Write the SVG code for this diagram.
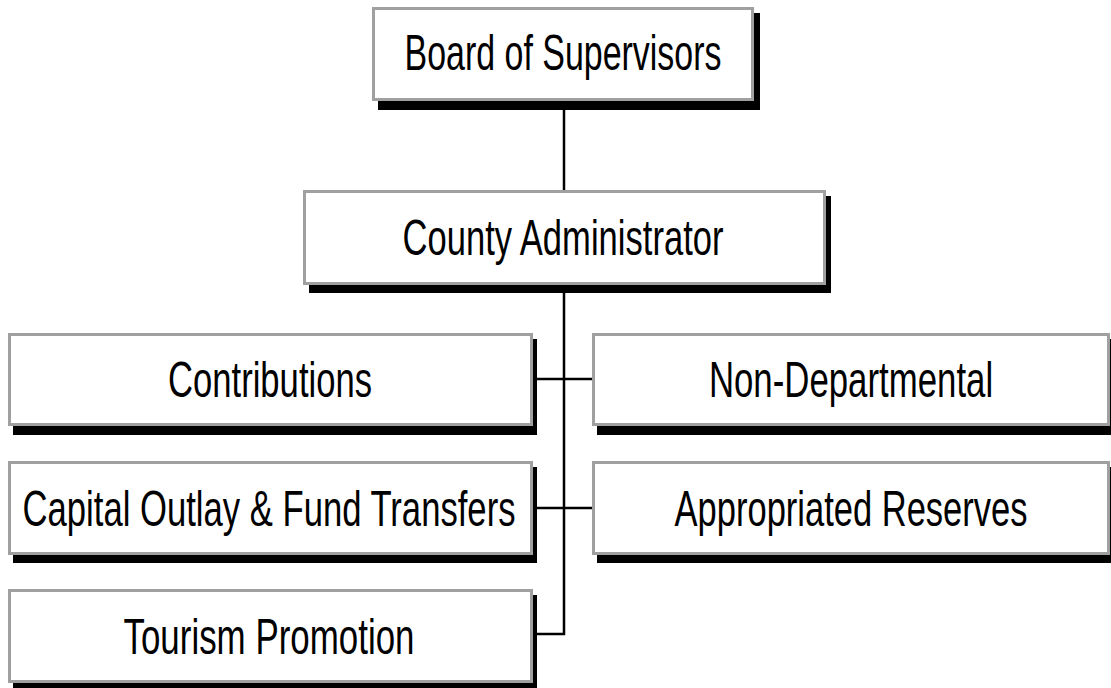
<svg xmlns="http://www.w3.org/2000/svg" width="1111" height="688" viewBox="0 0 1111 688">
<style>
.box{fill:#fff;stroke:#a0a0a0;stroke-width:3}
.sh{fill:#000}
.t{font-family:"Liberation Sans",Arial,sans-serif;font-size:50px;fill:#000;text-anchor:middle}
.c{stroke:#000;stroke-width:2.5;fill:none}
</style>
<rect width="1111" height="688" fill="#fff"/>
<g id="connectors">
<line class="c" x1="564" y1="100" x2="564" y2="190"/>
<polyline class="c" points="564,285 564,634 532,634"/>
<line class="c" x1="532" y1="379" x2="592" y2="379"/>
<line class="c" x1="532" y1="508" x2="592" y2="508"/>
</g>
<g id="board">
<rect class="sh" x="378" y="13" width="382" height="97"/>
<rect class="box" x="373.5" y="8.5" width="379" height="91"/>
<text class="t" transform="translate(563,70) scale(0.68,1)" textLength="466" lengthAdjust="spacingAndGlyphs">Board of Supervisors</text>
</g>
<g id="county">
<rect class="sh" x="309" y="196" width="522" height="97"/>
<rect class="box" x="304.5" y="191.5" width="520" height="92"/>
<text class="t" transform="translate(563,255) scale(0.68,1)" textLength="472" lengthAdjust="spacingAndGlyphs">County Administrator</text>
</g>
<g id="contributions">
<rect class="sh" x="13" y="339" width="524" height="96"/>
<rect class="box" x="9.5" y="334.5" width="522" height="90"/>
<text class="t" transform="translate(270,397) scale(0.68,1)" textLength="300" lengthAdjust="spacingAndGlyphs">Contributions</text>
</g>
<g id="nondept">
<rect class="sh" x="597" y="339" width="520" height="96"/>
<rect class="box" x="593.5" y="334.5" width="515" height="90"/>
<text class="t" transform="translate(851,397) scale(0.68,1)" textLength="418" lengthAdjust="spacingAndGlyphs">Non-Departmental</text>
</g>
<g id="capital">
<rect class="sh" x="13" y="467" width="524" height="96"/>
<rect class="box" x="9.5" y="462.5" width="522" height="91"/>
<text class="t" transform="translate(269,526) scale(0.68,1)" textLength="725" lengthAdjust="spacingAndGlyphs">Capital Outlay &amp; Fund Transfers</text>
</g>
<g id="reserves">
<rect class="sh" x="597" y="467" width="520" height="96"/>
<rect class="box" x="593.5" y="462.5" width="515" height="91"/>
<text class="t" transform="translate(851,526) scale(0.68,1)" textLength="519" lengthAdjust="spacingAndGlyphs">Appropriated Reserves</text>
</g>
<g id="tourism">
<rect class="sh" x="13" y="595" width="524" height="96"/>
<rect class="box" x="9.5" y="590.5" width="522" height="91"/>
<text class="t" transform="translate(269,654) scale(0.68,1)" textLength="428" lengthAdjust="spacingAndGlyphs">Tourism Promotion</text>
</g>
</svg>
